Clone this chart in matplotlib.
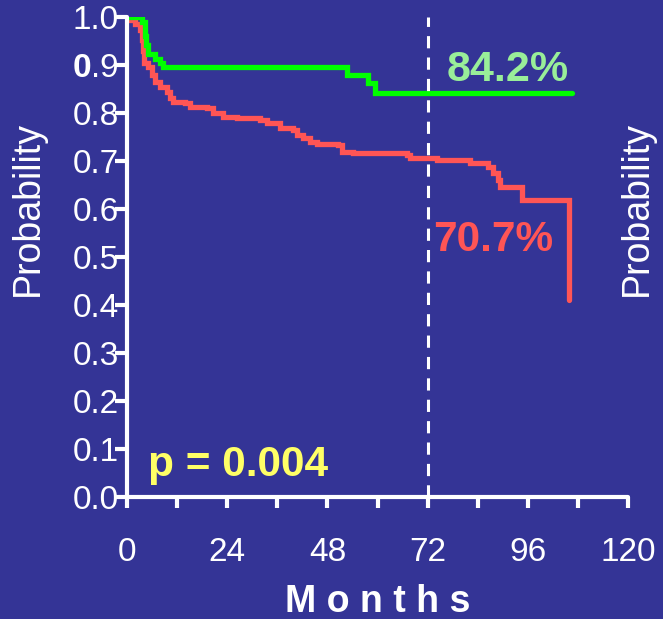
import matplotlib.pyplot as plt
from matplotlib.ticker import MultipleLocator

plt.rcParams['font.family'] = 'Liberation Sans'
plt.rcParams['mathtext.fontset'] = 'custom'
plt.rcParams['mathtext.rm'] = 'Liberation Sans'
plt.rcParams['mathtext.bf'] = 'Liberation Sans:bold'

bg = '#343496'

# Kaplan-Meier curves (months, probability)
green_t = [0, 3.6, 4.2, 4.6, 5.0, 6.6, 8.0, 8.6, 52.7, 57.7, 59.4, 106.5]
green_p = [1.0, 0.99, 0.96, 0.942, 0.922, 0.912, 0.905, 0.896, 0.879, 0.862, 0.842, 0.842]

red_t = [0, 0.7, 2.0, 3.0, 3.5, 3.9, 4.0, 5.0, 5.9, 6.7, 7.9, 9.5, 10.3, 11.0, 13.9, 15.1,
         19.1, 20.6, 23.0, 26.3, 31.9, 33.5, 36.6, 39.8, 40.6, 42.2, 43.8, 45.4, 50.5, 51.4,
         54.1, 67.0, 67.8, 74.2, 82.2, 86.5, 87.7, 88.9, 89.4, 94.6, 105.8, 105.8]
red_p = [1.0, 0.993, 0.985, 0.973, 0.952, 0.93, 0.904, 0.896, 0.879, 0.865, 0.854, 0.844,
         0.831, 0.823, 0.82, 0.813, 0.81, 0.80, 0.792, 0.79, 0.785, 0.779, 0.769, 0.765,
         0.754, 0.748, 0.74, 0.735, 0.733, 0.719, 0.717, 0.7125, 0.707, 0.702, 0.696, 0.6875,
         0.675, 0.66, 0.646, 0.619, 0.619, 0.41]

x_ticks = [0, 24, 48, 72, 96, 120]
y_ticks = [0.0, 0.1, 0.2, 0.3, 0.4, 0.5, 0.6, 0.7, 0.8, 0.9, 1.0]
y_labels = ['0.0', '0.1', '0.2', '0.3', '0.4', '0.5', '0.6', '0.7', '0.8',
            r'$\mathbf{0}$.9', '1.0']

fig = plt.figure(figsize=(6.63, 6.19), dpi=100, facecolor=bg)
ax = fig.add_axes([0.1916, 0.197, 0.7557, 0.7755], facecolor=bg)

ax.step(red_t, red_p, where='post', color='#ff5555', lw=3.8, solid_capstyle='round',
        solid_joinstyle='miter')
ax.step(green_t, green_p, where='post', color='#00ff00', lw=3.8, solid_capstyle='round',
        solid_joinstyle='miter')

# landmark at 72 months
ax.plot([72, 72], [0, 1.0], color='white', lw=2.2, dashes=(4, 3))

ax.set_xlim(0, 120)
ax.set_ylim(0, 1.0)
ax.set_xticks(x_ticks)
ax.xaxis.set_minor_locator(MultipleLocator(12))
ax.set_yticks(y_ticks)
ax.set_yticklabels(y_labels)

for s in ['top', 'right']:
    ax.spines[s].set_visible(False)
for s in ['left', 'bottom']:
    ax.spines[s].set_color('white')
    ax.spines[s].set_linewidth(3)
    ax.spines[s].set_capstyle('round')

ax.tick_params(axis='x', which='both', direction='out', length=8, width=3, color='white',
               labelcolor='white', labelsize=24, pad=21)
ax.tick_params(axis='y', direction='out', length=9, width=3, color='white',
               labelcolor='white', labelsize=24, pad=-3)
for lab in ax.get_yticklabels():
    lab.set_zorder(0)

ax.set_xlabel('M o n t h s', color='white', fontsize=27, fontweight='bold', labelpad=11)

fig.text(0.042, 0.663, 'Probability', color='white', fontsize=27, rotation=90,
         ha='center', va='center')
fig.text(0.961, 0.663, 'Probability', color='white', fontsize=27, rotation=90,
         ha='center', va='center')

ax.text(91.2, 0.89, '84.2%', color='#99ee99', fontsize=31, fontweight='bold',
        ha='center', va='center')
ax.text(73.3, 0.535, '70.7%', color='#ff5555', fontsize=30.5, fontweight='bold',
        ha='left', va='center')
ax.text(5, 0.066, 'p = 0.004', color='#ffff66', fontsize=30.5, fontweight='bold',
        ha='left', va='center')

fig.savefig('out.png', dpi=100, facecolor=bg)
